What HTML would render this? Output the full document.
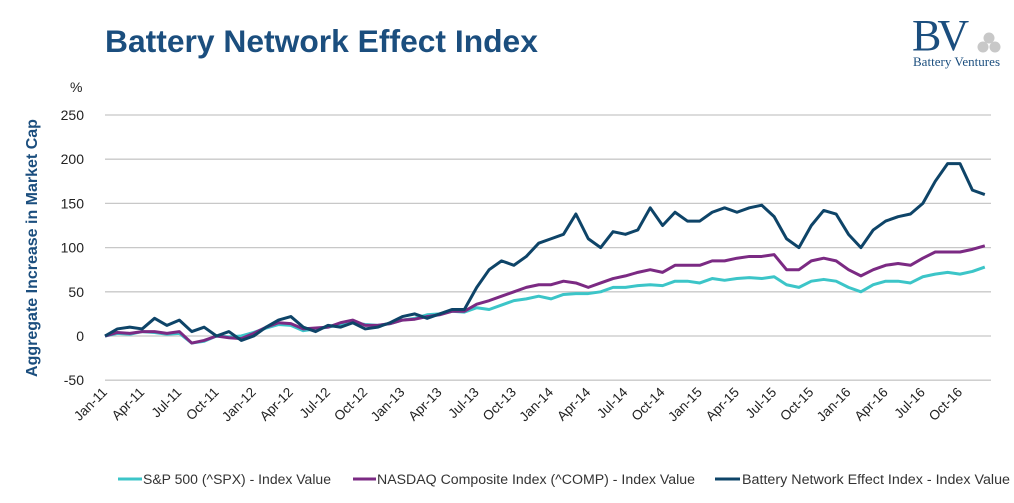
<!DOCTYPE html>
<html><head><meta charset="utf-8"><style>
body{margin:0;background:#fff;width:1014px;height:498px;overflow:hidden;font-family:"Liberation Sans",sans-serif}
</style></head><body>
<svg width="1014" height="498" id="svg" xmlns="http://www.w3.org/2000/svg">
<text x="105" y="52" font-size="31.8" font-weight="bold" fill="#1b4e7e">Battery Network Effect Index</text>
<g>
<text x="912" y="50" font-family="Liberation Serif" font-size="44" fill="#1b4e7e" letter-spacing="-4">BV</text>
<circle cx="989" cy="38" r="5.5" fill="#c8c8c8"/><circle cx="983" cy="47" r="5.5" fill="#c8c8c8"/><circle cx="995" cy="47" r="5.5" fill="#c8c8c8"/>
<text x="913" y="66" font-family="Liberation Serif" font-size="13" fill="#1b4e7e" textLength="87">Battery Ventures</text>
</g>
<text x="70" y="92" font-size="14" fill="#222">%</text>
<text transform="translate(37,248) rotate(-90)" text-anchor="middle" font-size="16" font-weight="bold" fill="#1b4e7e">Aggregate Increase in Market Cap</text>
<g id="grid"></g><g id="xl"></g><g id="lines"></g>
<g font-size="13.5" fill="#333">
<line x1="118" y1="479" x2="142" y2="479" stroke="#3cc5c8" stroke-width="3"/><text x="143" y="484" textLength="188" lengthAdjust="spacingAndGlyphs">S&amp;P 500 (^SPX) - Index Value</text>
<line x1="353" y1="479" x2="376" y2="479" stroke="#7b2a83" stroke-width="3"/><text x="377" y="484" textLength="318" lengthAdjust="spacingAndGlyphs">NASDAQ Composite Index (^COMP) - Index Value</text>
<line x1="715" y1="479" x2="740" y2="479" stroke="#0e4468" stroke-width="3"/><text x="742" y="484" textLength="268" lengthAdjust="spacingAndGlyphs">Battery Network Effect Index - Index Value</text>
</g>
</svg>
<script>
const yTicks=[-50,0,50,100,150,200,250];
const xLabels=["Jan-11","Apr-11","Jul-11","Oct-11","Jan-12","Apr-12","Jul-12","Oct-12","Jan-13","Apr-13","Jul-13","Oct-13","Jan-14","Apr-14","Jul-14","Oct-14","Jan-15","Apr-15","Jul-15","Oct-15","Jan-16","Apr-16","Jul-16","Oct-16"];
const bnei=[0,8,10,8,20,12,18,5,10,0,5,-5,0,10,18,22,10,5,12,10,15,8,10,15,22,25,20,25,30,30,55,75,85,80,90,105,110,115,138,110,100,118,115,120,145,125,140,130,130,140,145,140,145,148,135,110,100,125,142,138,115,100,120,130,135,138,150,175,195,195,165,160];
const nasdaq=[0,4,3,5,5,3,5,-8,-5,0,-2,-3,3,10,15,14,8,9,10,15,18,12,12,14,18,19,22,24,28,28,36,40,45,50,55,58,58,62,60,55,60,65,68,72,75,72,80,80,80,85,85,88,90,90,92,75,75,85,88,85,75,68,75,80,82,80,88,95,95,95,98,102];
const sp500=[0,3,2,5,4,2,3,-8,-6,0,-1,0,4,9,13,12,6,8,10,13,15,13,12,14,18,20,24,25,28,27,32,30,35,40,42,45,42,47,48,48,50,55,55,57,58,57,62,62,60,65,63,65,66,65,67,58,55,62,64,62,55,50,58,62,62,60,67,70,72,70,73,78];
const NS="http://www.w3.org/2000/svg";
const x0=105,x1=991,monthW=(x1-x0)/71.5;
const y=v=>336-v*0.884;
const x=m=>x0+m*monthW;
const g=document.getElementById('grid'),xl=document.getElementById('xl'),L=document.getElementById('lines');
yTicks.forEach(t=>{
 const l=document.createElementNS(NS,'line');
 
 
 l.setAttribute('x1',x0);l.setAttribute('x2',x1);l.setAttribute('y1',y(t));l.setAttribute('y2',y(t));
 l.setAttribute('stroke','#c8c8c8');l.setAttribute('stroke-width','1.3');g.appendChild(l);
 const tx=document.createElementNS(NS,'text');
 
 
 tx.setAttribute('x',84);tx.setAttribute('y',y(t)+5);tx.setAttribute('text-anchor','end');tx.setAttribute('font-size','14');tx.setAttribute('fill','#222');
 tx.textContent=t;g.appendChild(tx);
});
xLabels.forEach((s,i)=>{
 const tx=document.createElementNS(NS,'text');
 
 
 const px=x(i*3)+3,py=393;
 tx.setAttribute('transform',`translate(${px},${py}) rotate(-45)`);
 tx.setAttribute('text-anchor','end');tx.setAttribute('font-size','13.5');tx.setAttribute('fill','#222');
 tx.textContent=s;xl.appendChild(tx);
});
[[sp500,'#3cc5c8','line-sp500'],[nasdaq,'#7b2a83','line-nasdaq'],[bnei,'#0e4468','line-bnei']].forEach(([d,c,n])=>{
 const p=document.createElementNS(NS,'polyline');
 
 
 p.setAttribute('points',d.map((v,i)=>x(i)+','+y(v)).join(' '));
 p.setAttribute('fill','none');p.setAttribute('stroke',c);p.setAttribute('stroke-width','3');p.setAttribute('stroke-linejoin','round');
 L.appendChild(p);
});
</script>
</body></html>
